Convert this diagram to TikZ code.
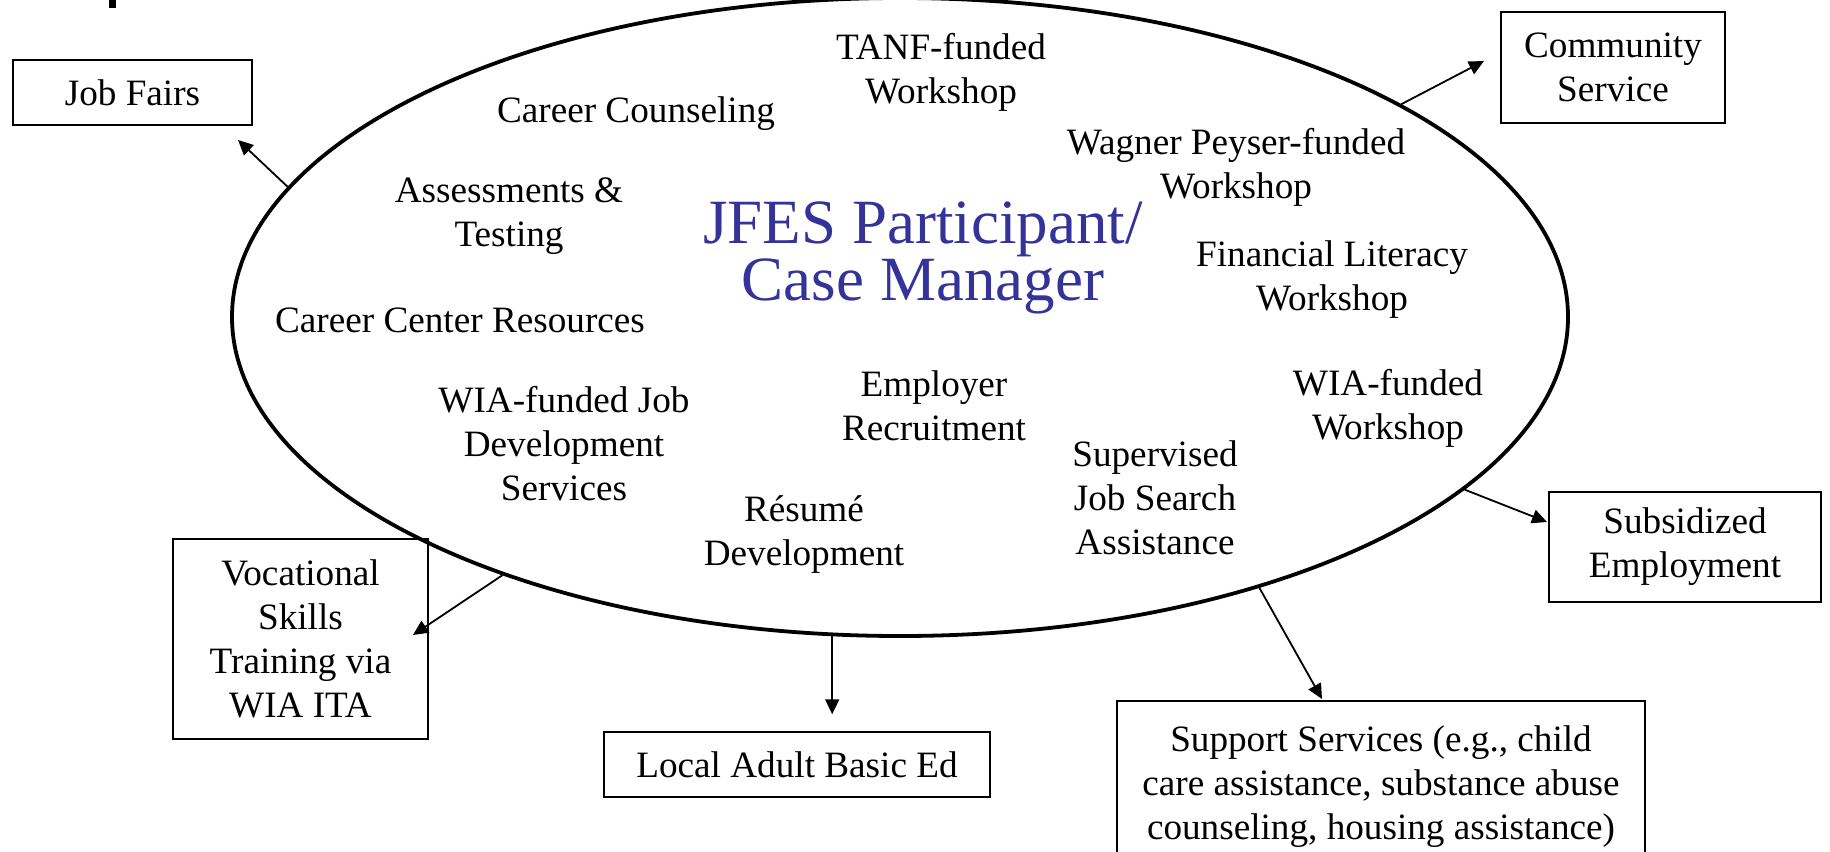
\documentclass[tikz,border=0pt]{standalone}
\usepackage{fontspec}
\setmainfont{Liberation Serif}
\usetikzlibrary{shapes.geometric,arrows.meta,calc}
\definecolor{jfesblue}{HTML}{333399}
\newcommand\bodyfont{\fontsize{18.6}{22}\selectfont}
\newcommand\titlefont{\fontsize{31.5}{28.5}\selectfont}
\tikzset{
  lbl/.style={align=center, font=\bodyfont, inner sep=0pt},
  boxnode/.style={draw, line width=1.1pt, align=center, font=\bodyfont, inner sep=0pt},
  arr/.style={line width=0.9pt, -{Triangle[length=7.5pt,width=7pt]}},
}
\begin{document}
\begin{tikzpicture}[x=0.5pt,y=-0.5pt]
\useasboundingbox (0,0) rectangle (1830,851);
\clip (0,0) rectangle (1830,851);
% cut-off fragment at top left
\fill (109,0) rectangle (116,8);
% central ellipse
\node[ellipse, draw, line width=1.9pt, minimum width=668pt, minimum height=319pt, inner sep=0pt] (ell) at (900,317) {};
% inner labels
\node[font=\titlefont, text=jfesblue, align=center, inner sep=0pt] (jfes) at (923,258) {JFES Participant/\\Case Manager};
\node[lbl] (tanf) at (941,72) {TANF-funded\\Workshop};
\node[lbl] (cc) at (636,114) {Career Counseling};
\node[lbl] (wp) at (1236,167) {Wagner Peyser-funded\\Workshop};
\node[lbl] (at) at (509,216) {Assessments \&\\Testing};
\node[lbl] (fl) at (1332,280) {Financial Literacy\\Workshop};
\node[lbl] (ccr) at (460,320) {Career Center Resources};
\node[lbl] (wiajd) at (564,444) {WIA-funded Job\\Development\\Services};
\node[lbl] (er) at (934,406) {Employer\\Recruitment};
\node[lbl] (wiaw) at (1388,408) {WIA-funded\\Workshop};
\node[lbl] (sjs) at (1155,498) {Supervised\\Job Search\\Assistance};
\node[lbl] (rd) at (804,535) {Résumé\\Development};
% outer boxes
\node[boxnode, minimum width=119.5pt, minimum height=32.5pt] (jf) at (132.5,92.5) {Job Fairs};
\node[boxnode, minimum width=112pt, minimum height=55.5pt] (cs) at (1613,67.5) {Community\\Service};
\node[boxnode, minimum width=136pt, minimum height=55pt] (se) at (1685,547) {Subsidized\\Employment};
\node[boxnode, minimum width=264pt, minimum height=86pt] (ss) at (1381,787) {Support Services (e.g., child\\care assistance, substance abuse\\counseling, housing assistance)};
\node[boxnode, minimum width=193pt, minimum height=32.5pt] (la) at (797,764.5) {Local Adult Basic Ed};
\node[boxnode, minimum width=127.5pt, minimum height=100pt] (vs) at (300.5,639) {Vocational\\Skills\\Training via\\WIA ITA};
% arrow ends
\coordinate (jfT) at (238,140);
\coordinate (csT) at (1484,61);
\coordinate (seT) at (1547,522);
\coordinate (ssT) at (1322,699);
\coordinate (laS) at (ell.258.2);
\coordinate (laT) at ($(laS)+(0,78)$);
\coordinate (vsT) at (413,635);
% connectors
\draw[arr] (ell.168) -- (jfT);
\draw[arr] (ell.23.5) -- (csT);
\draw[arr] (ell.343.3) -- (seT);
\draw[arr] (ell.323.5) -- (ssT);
\draw[arr] (laS) -- (laT);
\draw[arr] (ell.213.2) -- (vsT);
\end{tikzpicture}
\end{document}
